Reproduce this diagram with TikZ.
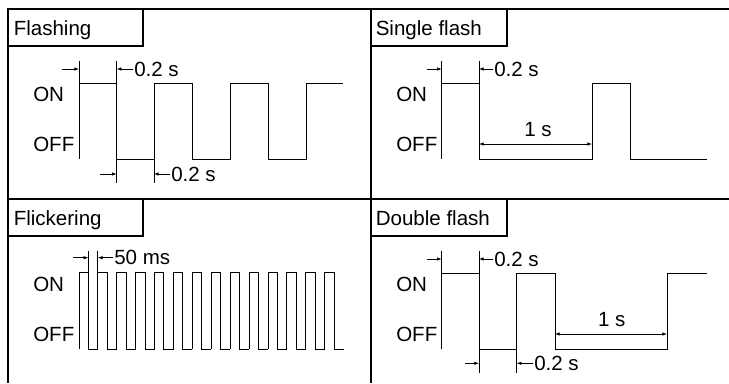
\documentclass[tikz,border=0pt]{standalone}
\usepackage{fontspec}
\setmainfont{Liberation Sans}
\usetikzlibrary{arrows.meta}

\tikzset{
  frame/.style={line width=1.5pt},
  titlebox/.style={line width=0.8pt},
  wave/.style={line width=0.7pt},
  dim/.style={line width=0.5pt,-{Latex[length=3.5pt,width=2.6pt]}},
  dimboth/.style={line width=0.5pt,{Latex[length=3.5pt,width=2.6pt]}-{Latex[length=3.5pt,width=2.6pt]}},
  lbl/.style={inner sep=0.75pt,font=\fontsize{15.4}{18}\selectfont},
}

\begin{document}
\begin{tikzpicture}[x=0.75pt,y=-0.75pt]
\useasboundingbox (0,0) rectangle (729,383);
% title boxes
\draw[titlebox] (8,9) rectangle (143,46);
\draw[titlebox] (371,9) rectangle (507,46);
\draw[titlebox] (8,199) rectangle (143,236);
\draw[titlebox] (371,199) rectangle (507,236);
\node[lbl,anchor=base west] (t-flash) at (12.5,35.5) {Flashing};
\node[lbl,anchor=base west] (t-single) at (374.5,35.5) {Single flash};
\node[lbl,anchor=base west] (t-flick) at (12.5,225.5) {Flickering};
\node[lbl,anchor=base west] (t-double) at (374.5,225.5) {Double flash};
% frame
\draw[frame] (8,383) -- (8,9) -- (729,9);
\draw[frame] (371,9) -- (371,383);
\draw[frame] (8,199) -- (729,199);

% flashing
\node[lbl,anchor=base west] (fl-on) at (32,101.7) {ON};
\node[lbl,anchor=base west] (fl-off) at (32,151.7) {OFF};
\draw[wave] (79,61) -- (79,159);
\draw[wave] (79,83.3) -- (116.7,83.3) -- (116.7,159) -- (154,159) -- (154,83.3) -- (192,83.3) -- (192,159)
  -- (230,159) -- (230,83.3) -- (268,83.3) -- (268,159) -- (306,159) -- (306,83.3) -- (343,83.3);
\draw[wave] (116.7,61) -- (116.7,183);
\draw[wave] (154,159) -- (154,183);
\coordinate (fl-a) at (62,69);
\draw[dim] (fl-a) -- (79,69);
\node[lbl,anchor=west] (fl-top) at (133,69) {0.2 s};
\draw[dim] (fl-top.west) -- (116.7,69);
\coordinate (fl-b) at (100,174);
\draw[dim] (fl-b) -- (116.7,174);
\node[lbl,anchor=west] (fl-bot) at (170,174) {0.2 s};
\draw[dim] (fl-bot.west) -- (154,174);

% single flash
\node[lbl,anchor=base west] (sf-on) at (395,101.7) {ON};
\node[lbl,anchor=base west] (sf-off) at (395,151.7) {OFF};
\draw[wave] (441.7,61) -- (441.7,159);
\draw[wave] (441.7,83.3) -- (479,83.3) -- (479,159) -- (592,159) -- (592,83.3) -- (630,83.3) -- (630,159) -- (707,159);
\draw[wave] (479,61) -- (479,83.3);
\coordinate (sf-a) at (427,69);
\draw[dim] (sf-a) -- (441.7,69);
\node[lbl,anchor=west] (sf-top) at (493,69) {0.2 s};
\draw[dim] (sf-top.west) -- (479,69);
\coordinate (sf-l) at (479,144);
\coordinate (sf-r) at (592,144);
\draw[dimboth] (sf-l) -- (sf-r);
\node[lbl,anchor=base] (sf-one) at (538,136.7) {1 s};

% flickering
\node[lbl,anchor=base west] (fk-on) at (32,291.7) {ON};
\node[lbl,anchor=base west] (fk-off) at (32,341.7) {OFF};
\foreach \k in {0,...,13}{
  \pgfmathsetmacro\r{79+18.9*\k}
  \draw[wave] (\r,349) -- (\r,272.7) -- (\r+9.3,272.7) -- (\r+9.3,349) -- (\r+18.9,349);
}
\draw[wave] (88.3,251) -- (88.3,272.7);
\draw[wave] (97.9,251) -- (97.9,272.7);
\coordinate (fk-a) at (73,257.7);
\draw[dim] (fk-a) -- (88.3,257.7);
\node[lbl,anchor=west] (fk-top) at (113,257.7) {50 ms};
\draw[dim] (fk-top.west) -- (97.9,257.7);

% double flash
\node[lbl,anchor=base west] (df-on) at (395,291.7) {ON};
\node[lbl,anchor=base west] (df-off) at (395,341.7) {OFF};
\draw[wave] (441.7,251) -- (441.7,349);
\draw[wave] (441.7,273.3) -- (479,273.3) -- (479,349) -- (516.7,349) -- (516.7,273.3) -- (555,273.3) -- (555,349)
  -- (667,349) -- (667,273.3) -- (707,273.3);
\draw[wave] (479,251) -- (479,372.7);
\draw[wave] (516.7,349) -- (516.7,372.7);
\coordinate (df-a) at (427,259);
\draw[dim] (df-a) -- (441.7,259);
\node[lbl,anchor=west] (df-top) at (493,259) {0.2 s};
\draw[dim] (df-top.west) -- (479,259);
\coordinate (df-b) at (465,363.3);
\draw[dim] (df-b) -- (479,363.3);
\node[lbl,anchor=west] (df-bot) at (533,363.3) {0.2 s};
\draw[dim] (df-bot.west) -- (516.7,363.3);
\coordinate (df-l) at (555,334);
\coordinate (df-r) at (667,334);
\draw[dimboth] (df-l) -- (df-r);
\node[lbl,anchor=base] (df-one) at (611.7,326) {1 s};
\end{tikzpicture}
\end{document}
